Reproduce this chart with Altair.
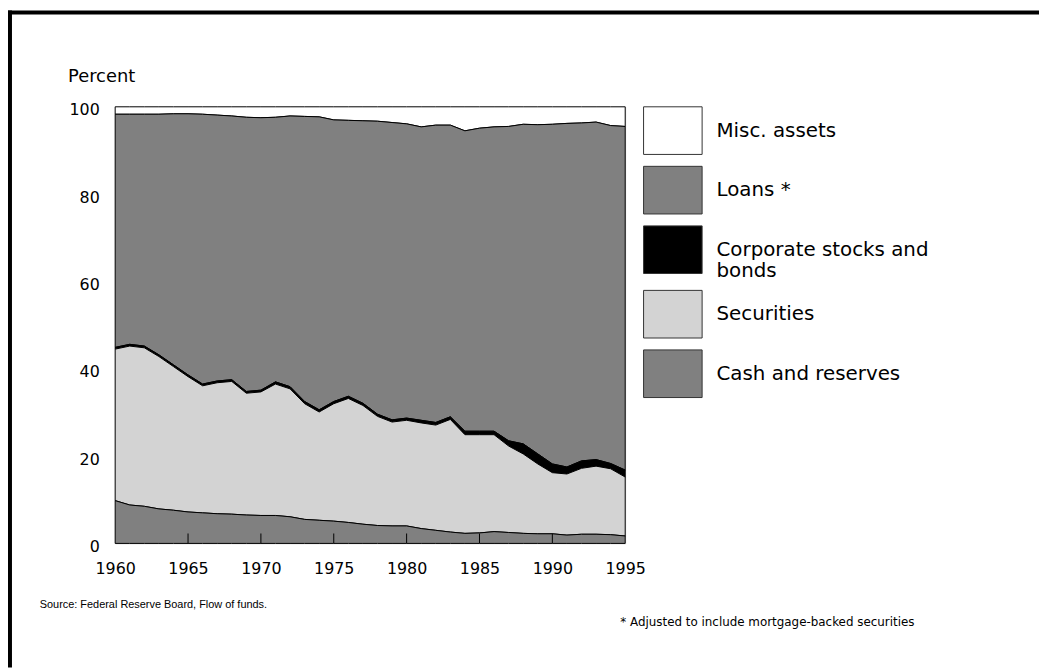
import altair as alt
import pandas as pd

years = list(range(1960, 1996))

cash = [9.8, 8.8, 8.5, 7.9, 7.6, 7.2, 7.0, 6.8, 6.7, 6.5, 6.4, 6.4, 6.1, 5.5, 5.3, 5.1, 4.8, 4.4,
        4.1, 4.0, 4.0, 3.4, 3.0, 2.6, 2.3, 2.4, 2.7, 2.5, 2.3, 2.2, 2.2, 1.9, 2.1, 2.1, 2.0, 1.7]
securities = [34.7, 36.4, 36.3, 34.9, 32.9, 31.0, 29.1, 30.0, 30.4, 27.9, 28.3, 30.1, 29.3, 26.5,
              24.8, 26.9, 28.4, 27.2, 25.0, 23.8, 24.2, 24.2, 24.1, 25.8, 22.6, 22.5, 22.2, 19.8,
              18.2, 16.0, 14.0, 14.0, 15.1, 15.6, 15.1, 13.5]
corporate = [0.4, 0.4, 0.4, 0.4, 0.4, 0.4, 0.4, 0.4, 0.4, 0.4, 0.4, 0.5, 0.5, 0.5, 0.5, 0.5, 0.5,
             0.5, 0.5, 0.5, 0.5, 0.6, 0.6, 0.6, 0.8, 0.8, 0.8, 1.2, 2.3, 2.3, 2.0, 1.6, 1.7, 1.5,
             1.2, 1.6]
loans = [53.4, 52.7, 53.1, 55.1, 57.5, 59.8, 61.8, 60.9, 60.4, 62.8, 62.4, 60.6, 62.0, 65.3, 67.1,
         64.5, 63.2, 64.7, 67.1, 68.1, 67.4, 67.2, 68.1, 66.8, 68.8, 69.4, 69.7, 72.0, 73.2, 75.4,
         77.8, 78.7, 77.4, 77.3, 77.4, 78.7]
misc = [1.7, 1.7, 1.7, 1.7, 1.6, 1.6, 1.7, 1.9, 2.1, 2.4, 2.5, 2.4, 2.1, 2.2, 2.3, 3.0, 3.1, 3.2,
        3.3, 3.6, 3.9, 4.6, 4.2, 4.2, 5.5, 4.9, 4.6, 4.5, 4.0, 4.1, 4.0, 3.8, 3.7, 3.5, 4.3, 4.5]

categories = ["Misc. assets", "Loans *", "Corporate stocks and bonds", "Securities", "Cash and reserves"]
colors = ["#ffffff", "#808080", "#000000", "#d3d3d3", "#808080"]
stack_rank = [5, 4, 3, 2, 1]
series = [misc, loans, corporate, securities, cash]

x_ticks = [1960, 1965, 1970, 1975, 1980, 1985, 1990, 1995]
inner_ticks = [1965, 1970, 1975, 1980, 1985, 1990]
y_ticks = [0, 20, 40, 60, 80, 100]

source_text = "Source: Federal Reserve Board, Flow of funds."
note_text = "* Adjusted to include mortgage-backed securities"

rows = []
for cat, rank, vals in zip(categories, stack_rank, series):
    for y, v in zip(years, vals):
        rows.append({"year": y, "category": cat, "value": v, "rank": rank})
df = pd.DataFrame(rows)

W, H = 514, 440
PAD = {"left": 108, "top": 97, "right": 417, "bottom": 125}

xscale = alt.Scale(domain=[1960, 1995], nice=False, zero=False)

areas = alt.Chart(df).mark_area(stroke="black", strokeWidth=1, interpolate="linear").encode(
    x=alt.X("year:Q", scale=xscale,
            axis=alt.Axis(values=x_ticks, format="d", title=None, ticks=False, domain=False,
                          grid=False, labelFlush=False, labelOverlap=False, labelPadding=17,
                          labelFont="DejaVu Sans", labelFontSize=16, labelColor="black")),
    y=alt.Y("value:Q", stack="zero", scale=alt.Scale(domain=[0, 100], nice=False),
            axis=alt.Axis(values=y_ticks, title="Percent", titleAngle=0, titleX=-48, titleY=-30,
                          titleAlign="left", titleBaseline="middle", titleFont="DejaVu Sans",
                          titleFontSize=18, titleFontWeight="normal", titleColor="black",
                          ticks=False, domain=False, grid=False, labelPadding=16, labelOffset=3,
                          labelFont="DejaVu Sans", labelFontSize=16, labelColor="black")),
    color=alt.Color("category:N", scale=alt.Scale(domain=categories, range=colors),
                    legend=alt.Legend(orient="none", legendX=532, legendY=-6, title=None,
                                      symbolType="M-1,-0.8136H1V0.8136H-1Z", symbolSize=3481,
                                      symbolStrokeColor="#333333", symbolStrokeWidth=1,
                                      symbolOpacity=1, labelFont="DejaVu Sans", labelFontSize=20,
                                      labelColor="black", labelOffset=14, rowPadding=3,
                                      labelLimit=400, padding=0,
                                      labelExpr="datum.label == 'Corporate stocks and bonds' ? ['Corporate stocks and', 'bonds'] : datum.label")),
    order=alt.Order("rank:Q", sort="ascending"),
)

ticks = alt.Chart(pd.DataFrame({"year": inner_ticks})).mark_rule(color="black", strokeWidth=1).encode(
    x=alt.X("year:Q", scale=xscale),
    y=alt.value(H - 10),
    y2=alt.value(H),
)

src = alt.Chart(pd.DataFrame({"t": [source_text]})).mark_text(
    align="left", baseline="middle", font="Liberation Sans", fontSize=11, color="black"
).encode(x=alt.value(-76), y=alt.value(502), text="t:N")

note = alt.Chart(pd.DataFrame({"t": [note_text]})).mark_text(
    align="left", baseline="middle", font="DejaVu Sans", fontSize=12, color="black"
).encode(x=alt.value(509), y=alt.value(519), text="t:N")

top_line = alt.Chart(pd.DataFrame({"k": [0]})).mark_rule(color="black", strokeWidth=4).encode(
    x=alt.value(-108), x2=alt.value(931), y=alt.value(-95))
left_line = alt.Chart(pd.DataFrame({"k": [0]})).mark_rule(color="black", strokeWidth=4).encode(
    x=alt.value(-106), y=alt.value(-97), y2=alt.value(565))

chart = alt.layer(areas, ticks, src, note, top_line, left_line).properties(
    width=W, height=H,
    autosize=alt.AutoSizeParams(type="none"),
    padding=PAD,
).configure_view(stroke="black", strokeWidth=1.5).configure(background="white")

chart.save("out.html", embed_options={"renderer": "svg", "actions": False})
